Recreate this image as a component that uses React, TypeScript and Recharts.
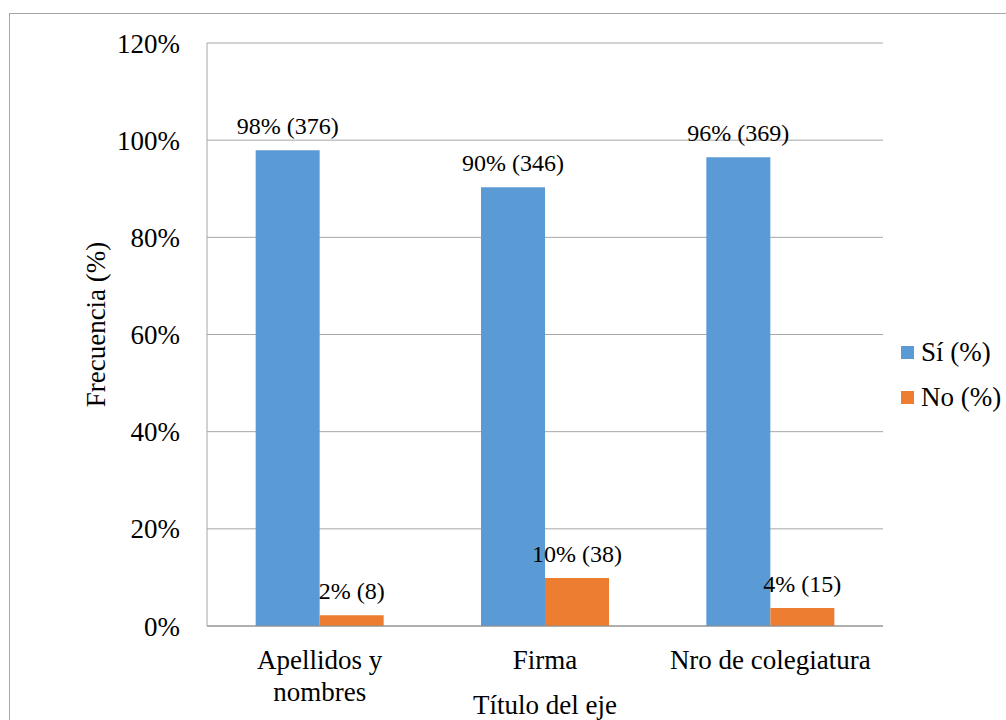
import React from 'react';
import { BarChart, Bar, XAxis, YAxis, CartesianGrid, Legend, LabelList } from 'recharts';

const categories = ['Apellidos y nombres', 'Firma', 'Nro de colegiatura'];
const siPct = [97.9, 90.3, 96.5];
const noPct = [2.2, 9.9, 3.7];
const siLabels = ['98% (376)', '90% (346)', '96% (369)'];
const noLabels = ['2% (8)', '10% (38)', '4% (15)'];
const yTicks = [0, 20, 40, 60, 80, 100, 120];
const seriesOrder = ['si', 'no'];

const FONT = '"Liberation Serif", "Times New Roman", serif';

const data = categories.map((name, i) => ({
  name,
  si: siPct[i],
  no: noPct[i],
  siLabel: siLabels[i],
  noLabel: noLabels[i],
}));

// wrap a label into lines no wider than maxW, measured with a canvas
let measureCtx: CanvasRenderingContext2D | null = null;
const wrapWords = (label: string, font: string, maxW: number) => {
  if (!measureCtx) measureCtx = document.createElement('canvas').getContext('2d');
  const ctx = measureCtx!;
  ctx.font = font;
  const lines: string[] = [];
  let cur = '';
  label.split(' ').forEach((w) => {
    const test = cur ? `${cur} ${w}` : w;
    if (cur && ctx.measureText(test).width > maxW) {
      lines.push(cur);
      cur = w;
    } else {
      cur = test;
    }
  });
  if (cur) lines.push(cur);
  return lines;
};

const XTick = (props: any) => {
  const { x, y, payload } = props;
  const lines = wrapWords(String(payload.value), `27px ${FONT}`, 210);
  return (
    <text x={x} y={y + 43} textAnchor="middle" fontSize={27} fill="#000">
      {lines.map((l, i) => (
        <tspan key={i} x={x} dy={i === 0 ? 0 : 32}>
          {l}
        </tspan>
      ))}
    </text>
  );
};

const BarLabel = (props: any) => {
  const { x, y, width, value } = props;
  return (
    <text x={x + width / 2} y={y - 16} textAnchor="middle" fontSize={24} fill="#000">
      {value}
    </text>
  );
};

const YTitle = (props: any) => {
  const { viewBox } = props;
  const cx = viewBox.x + 96;
  const cy = viewBox.y + viewBox.height / 2 - 10;
  return (
    <text
      transform={`translate(${cx}, ${cy}) rotate(-90)`}
      textAnchor="middle"
      dominantBaseline="central"
      fontSize={27}
      fill="#000"
    >
      Frecuencia (%)
    </text>
  );
};

const XTitle = (props: any) => {
  const { viewBox } = props;
  return (
    <text
      x={viewBox.x + viewBox.width / 2}
      y={viewBox.y + 79}
      textAnchor="middle"
      dominantBaseline="central"
      fontSize={27}
      fill="#000"
    >
      Título del eje
    </text>
  );
};

const LegendContent = (props: any) => {
  const items = [...(props.payload || [])].sort(
    (a: any, b: any) => seriesOrder.indexOf(a.dataKey) - seriesOrder.indexOf(b.dataKey)
  );
  return (
    <div style={{ fontSize: 27, color: '#000', whiteSpace: 'nowrap', width: 110 }}>
      {items.map((it: any) => (
        <div key={it.value} style={{ height: 45, display: 'flex', alignItems: 'center' }}>
          <span
            style={{ display: 'inline-block', flexShrink: 0, width: 13, height: 13, background: it.color, marginRight: 7 }}
          />
          <span style={{ lineHeight: '45px' }}>{it.value}</span>
        </div>
      ))}
    </div>
  );
};

const App: React.FC = () => {
  return (
    <div style={{ position: 'absolute', left: 0, top: 0, width: 1006, height: 720, overflow: 'hidden', background: '#fff' }}>
      <style>{`#root, #root * { font-family: ${FONT} !important; }`}</style>
      <div
        style={{
          position: 'absolute',
          left: 9,
          top: 13,
          width: 1100,
          height: 800,
          border: '1px solid #a6a6a6',
        }}
      />
      <div style={{ position: 'absolute', left: 0, top: 0 }}>
        <BarChart
          width={1006}
          height={720}
          data={data}
          margin={{ top: 43, right: 123, bottom: 0, left: 0 }}
          barCategoryGap="21.6%"
          barGap={0}
        >
          <CartesianGrid vertical={false} stroke="#a6a6a6" />
          <XAxis
            dataKey="name"
            height={94}
            axisLine={{ stroke: '#8c8c8c' }}
            tickLine={false}
            tickSize={0}
            tickMargin={0}
            interval={0}
            tick={<XTick />}
            label={<XTitle />}
          />
          <YAxis
            width={207}
            domain={[0, 120]}
            ticks={yTicks}
            tickFormatter={(v: number) => `${v}%`}
            axisLine={{ stroke: '#a6a6a6' }}
            tickLine={false}
            tickSize={0}
            tickMargin={27}
            tick={{ fill: '#000', fontSize: 27 }}
            label={<YTitle />}
          />
          <Legend
            layout="horizontal"
            verticalAlign="middle"
            align="right"
            content={<LegendContent />}
            wrapperStyle={{ left: 901, top: 330, right: undefined, width: 0, height: 0, overflow: 'visible' }}
          />
          <Bar dataKey="si" name="Sí (%)" fill="#5b9bd5" isAnimationActive={false}>
            <LabelList dataKey="siLabel" content={<BarLabel />} />
          </Bar>
          <Bar dataKey="no" name="No (%)" fill="#ed7d31" isAnimationActive={false}>
            <LabelList dataKey="noLabel" content={<BarLabel />} />
          </Bar>
        </BarChart>
      </div>
    </div>
  );
};

export default App;
